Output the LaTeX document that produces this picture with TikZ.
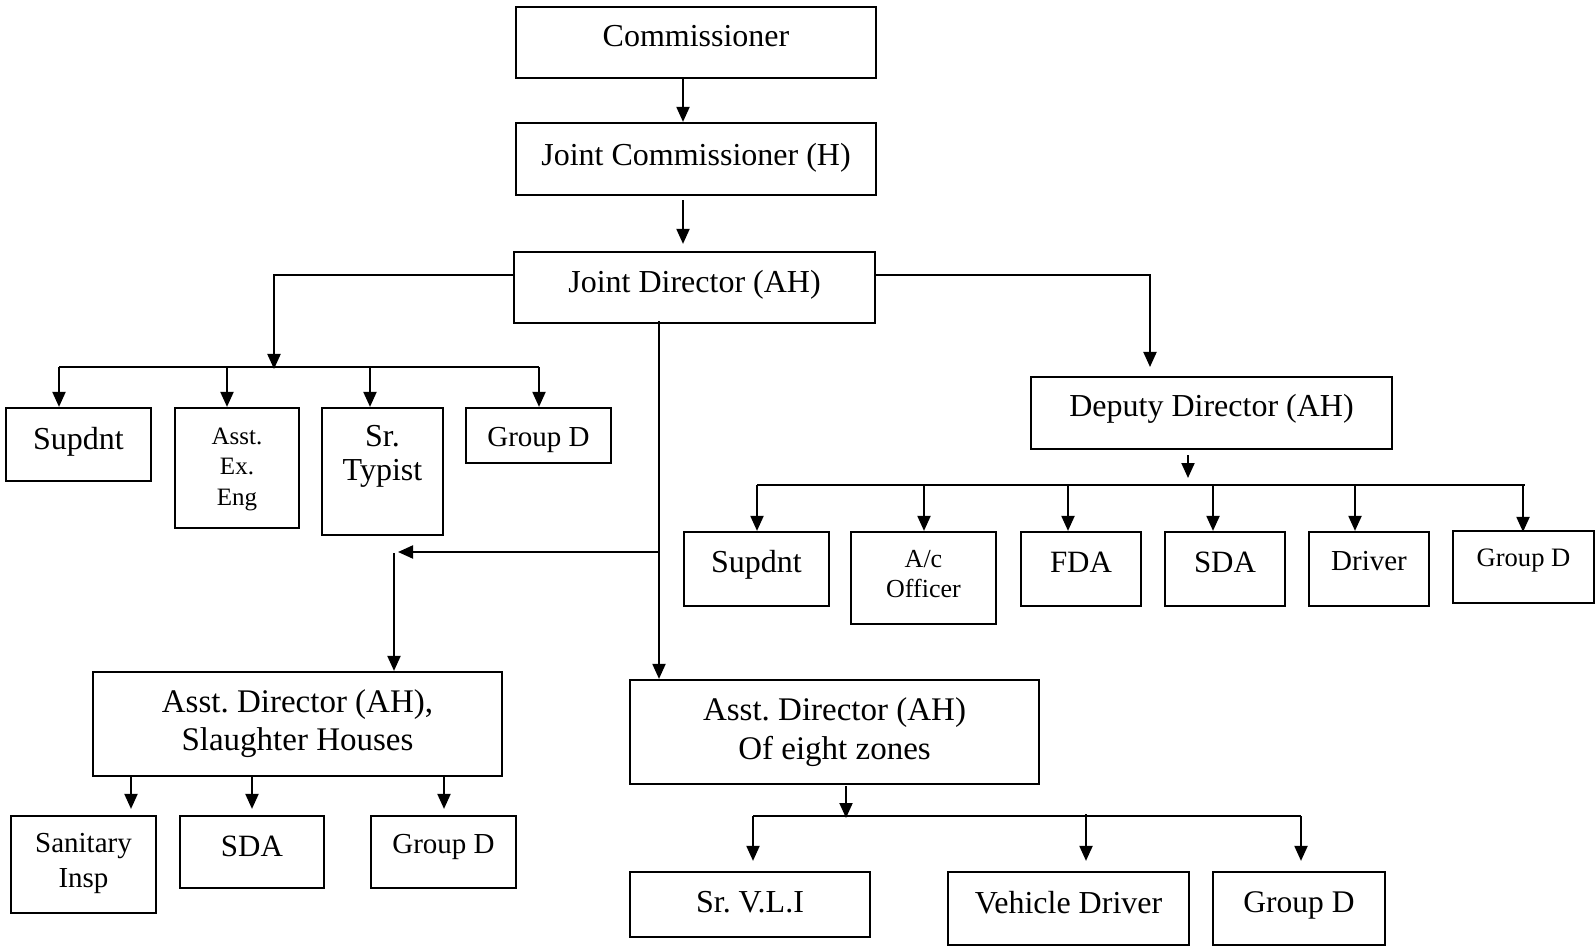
\documentclass[tikz,border=0pt]{standalone}
\usepackage{fontspec}
\setmainfont{Liberation Serif}
\usetikzlibrary{arrows.meta}
\tikzset{
 bx/.style={draw, line width=1.1pt, inner sep=0pt, rectangle},
 tx/.style={inner sep=0pt, align=center},
 fs/.style 2 args={font=\fontsize{#1}{#2}\selectfont},
 arr/.style={line width=1pt, -{Triangle[length=7.5pt,width=6.5pt]}},
 ln/.style={line width=1pt},
}
\newcommand\bx[8]{%
 \node[bx, minimum width={(#4-#2)*0.5pt}, minimum height={(#5-#3)*0.5pt}] (#1) at ({(#2+#4)/2},{(#3+#5)/2}) {};
 \node[tx, #7] (#1-t) at ([yshift={-(#6)*0.5pt}]#1.center) {#8};
}
\frenchspacing
\begin{document}
\begin{tikzpicture}[x=0.5pt,y=-0.5pt]
\fill[white] (0,0) rectangle (1595,946);
\useasboundingbox (0,0) rectangle (1595,946);

\bx{comm}{516}{7}{876}{78}{-6}{fs={16}{19}}{Commissioner}
\bx{jc}{516}{123}{876}{195}{-1}{fs={16}{19}}{Joint Commissioner (H)}
\bx{jd}{514}{252}{875}{323}{-3}{fs={16}{19}}{Joint Director (AH)}
\bx{supa}{6}{408}{151}{481}{-3}{fs={16}{19}}{Supdnt}
\bx{aee}{175}{408}{299}{528}{1}{fs={12.5}{15.25}}{Asst.\\Ex.\\Eng}
\bx{sty}{322}{408}{443}{535}{-15}{fs={16}{17.3}}{Sr.\\Typist}
\bx{gda}{466}{408}{611}{463}{4}{fs={14.5}{17}}{Group D}
\bx{dd}{1031}{377}{1392}{449}{-4}{fs={16}{19}}{Deputy Director (AH)}
\bx{supb}{684}{532}{829}{606}{-4}{fs={16}{19}}{Supdnt}
\bx{aco}{851}{532}{996}{624}{-4}{fs={13}{15.25}}{A/c\\Officer}
\bx{fda}{1021}{532}{1141}{606}{-7}{fs={15.5}{19}}{FDA}
\bx{sdaa}{1165}{532}{1285}{606}{-7}{fs={15.5}{19}}{SDA}
\bx{drv}{1309}{532}{1429}{606}{-8}{fs={14.5}{19}}{Driver}
\bx{gdb}{1453}{531}{1594}{603}{-6}{fs={13.3}{16}}{Group D}
\bx{ash}{93}{672}{502}{776}{0}{fs={16.5}{19}}{Asst. Director (AH),\\Slaughter Houses}
\bx{san}{11}{816}{156}{913}{-1}{fs={14.5}{17.3}}{Sanitary\\Insp}
\bx{sdab}{180}{816}{324}{888}{-6}{fs={15.5}{19}}{SDA}
\bx{gdc}{371}{816}{516}{888}{-5}{fs={14.5}{17}}{Group D}
\bx{az}{630}{680}{1039}{784}{0}{fs={16.5}{19.3}}{Asst. Director (AH)\\Of eight zones}
\bx{vli}{630}{872}{870}{937}{-2}{fs={16}{19}}{Sr. V.L.I}
\bx{vd}{948}{872}{1189}{945}{-6}{fs={16}{19}}{Vehicle Driver}
\bx{gdd}{1213}{872}{1385}{945}{-3}{fs={15.75}{19}}{Group D}

% top chain
\coordinate (xa) at (683,0);
\draw[arr] (xa |- comm.south) -- (xa |- jc.north);
\draw[arr] ([yshift=-2pt]xa |- jc.south) -- ([yshift=3.5pt]xa |- jd.north);

% joint director left / right
\coordinate (lt) at (274,369);
\coordinate (rt) at (1150,367);
\draw[arr] ([yshift=6.25pt]jd.west) -| (lt);
\draw[arr] ([yshift=6.25pt]jd.east) -| (rt);

% left bus
\coordinate (la) at (59,367);
\coordinate (lb) at (227,367);
\coordinate (lc) at (370,367);
\coordinate (ld) at (539,367);
\draw[ln] (la) -- (ld);
\draw[arr] (la) -- (la |- supa.north);
\draw[arr] (lb) -- (lb |- aee.north);
\draw[arr] (lc) -- (lc |- sty.north);
\draw[arr] (ld) -- (ld |- gda.north);

% vertical from joint director
\coordinate (vx) at (659,0);
\draw[arr] ([yshift=1.5pt]vx |- jd.south) -- (vx |- az.north);
\coordinate (bj) at (659,552);
\coordinate (bt) at (398,552);
\draw[arr] (bj) -- (bt);
\coordinate (bv) at (394,553);
\draw[arr] (bv) -- (bv |- ash.north);

% deputy director
\coordinate (dx) at (1188,0);
\coordinate (dt) at (1188,478);
\draw[arr] ([yshift=-2.5pt]dx |- dd.south) -- (dt);
\coordinate (ba) at (757,485);
\coordinate (bf) at (1525,485);
\draw[ln] (ba) -- (bf);
\coordinate (b1) at (757,485);
\coordinate (b2) at (924,485);
\coordinate (b3) at (1068,485);
\coordinate (b4) at (1213,485);
\coordinate (b5) at (1355,485);
\coordinate (b6) at (1523,485);
\draw[arr] (b1) -- (b1 |- supb.north);
\draw[arr] (b2) -- (b2 |- aco.north);
\draw[arr] (b3) -- (b3 |- fda.north);
\draw[arr] (b4) -- (b4 |- sdaa.north);
\draw[arr] (b5) -- (b5 |- drv.north);
\draw[arr] (b6) -- ([yshift=-1pt]b6 |- gdb.north);

% slaughter houses
\coordinate (s1) at (131,0);
\coordinate (s2) at (252,0);
\coordinate (s3) at (444,0);
\draw[arr] (s1 |- ash.south) -- ([yshift=3pt]s1 |- san.north);
\draw[arr] (s2 |- ash.south) -- ([yshift=3pt]s2 |- sdab.north);
\draw[arr] (s3 |- ash.south) -- ([yshift=3pt]s3 |- gdc.north);

% eight zones
\coordinate (zx) at (846,0);
\coordinate (zt) at (846,818);
\draw[arr] ([yshift=-0.5pt]zx |- az.south) -- (zt);
\coordinate (za) at (753,816);
\coordinate (zc) at (1301,816);
\draw[ln] (za) -- (zc);
\coordinate (z1) at (753,816);
\coordinate (z2) at (1086,814);
\coordinate (z3) at (1301,816);
\draw[arr] (z1) -- ([yshift=5pt]z1 |- vli.north);
\draw[arr] (z2) -- ([yshift=5pt]z2 |- vd.north);
\draw[arr] (z3) -- ([yshift=5pt]z3 |- gdd.north);
\end{tikzpicture}
\end{document}
